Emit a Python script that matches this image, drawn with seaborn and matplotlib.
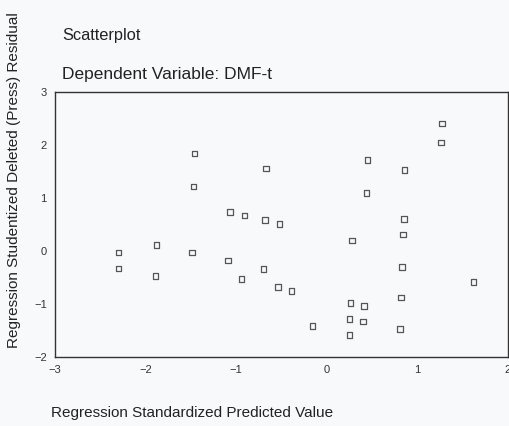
import numpy as np
import pandas as pd
import matplotlib
matplotlib.use("Agg")
import matplotlib.pyplot as plt
import seaborn as sns

# ======================
# DATA
# ======================
pred = [-2.30, -2.30, -1.88, -1.89, -1.46, -1.47, -1.49, -1.07, -0.91, -1.09,
        -0.94, 1.27, 1.26, 0.45, 0.86, -0.67, 0.44, -0.68, -0.52, 0.85,
        0.84, 0.28, -0.70, 0.83, 1.62, -0.54, -0.39, 0.26, 0.41, 0.82,
        0.25, 0.40, -0.16, 0.25, 0.81]
resid = [-0.03, -0.33, 0.11, -0.47, 1.84, 1.22, -0.03, 0.74, 0.67, -0.18,
         -0.53, 2.41, 2.05, 1.72, 1.53, 1.56, 1.09, 0.59, 0.51, 0.60,
         0.31, 0.20, -0.34, -0.30, -0.59, -0.68, -0.75, -0.98, -1.04, -0.88,
         -1.28, -1.33, -1.42, -1.58, -1.47]

x_ticks = [-3, -2, -1, 0, 1, 2]
y_ticks = [-2, -1, 0, 1, 2, 3]

df = pd.DataFrame({"pred": pred, "resid": resid})

# ======================
# PLOT
# ======================
sns.set_style("white")
plt.rcParams["font.family"] = ["Liberation Sans", "DejaVu Sans"]

fig = plt.figure(figsize=(5.1, 4.26), dpi=100)
fig.patch.set_facecolor("#f8f9fb")
ax = fig.add_axes([0.108, 0.162, 0.888, 0.622])
ax.set_facecolor("#f8f9fb")

sns.scatterplot(
    data=df, x="pred", y="resid", ax=ax,
    marker="s", s=16, facecolor="none", edgecolor="#555555", linewidth=0.9
)

ax.set_xlim(-3, 2)
ax.set_ylim(-2, 3)
ax.set_xticks(x_ticks)
ax.set_yticks(y_ticks)
ax.tick_params(axis="both", direction="out", length=2, width=1.2,
               labelsize=8, colors="#333333", pad=4)
for sp in ax.spines.values():
    sp.set_color("#333333")
    sp.set_linewidth(1.0)

ax.set_xlabel("Regression Standardized Predicted Value", fontsize=11,
              color="#222222")
ax.xaxis.set_label_coords(-0.01, -0.185)
ax.xaxis.label.set_horizontalalignment("left")
ax.set_ylabel("Regression Studentized Deleted (Press) Residual", fontsize=11,
              color="#222222")
ax.yaxis.set_label_coords(-0.075, 0.668)

fig.text(0.122, 0.905, "Scatterplot", fontsize=11.8, color="#222222")
fig.text(0.122, 0.815, "Dependent Variable: DMF-t", fontsize=12.5, color="#222222")

plt.savefig("out.png", dpi=100)
